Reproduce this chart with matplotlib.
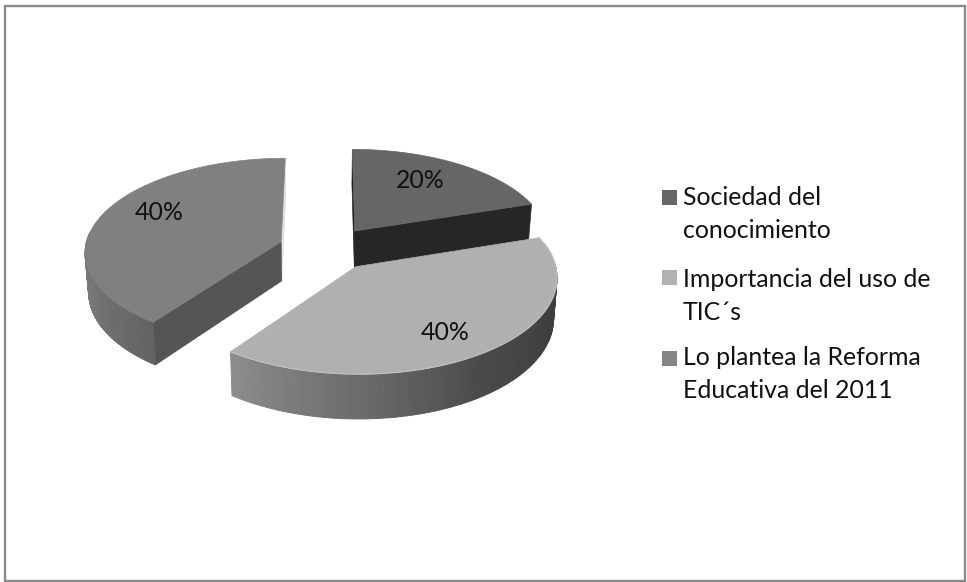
import numpy as np
import matplotlib
matplotlib.use("Agg")
import matplotlib.pyplot as plt
from matplotlib.patches import Polygon, Rectangle
from matplotlib.colors import LinearSegmentedColormap

# Data
categories = ["Sociedad del\nconocimiento", "Importancia del uso de\nTIC´s",
              "Lo plantea la Reforma\nEducativa del 2011"]
values = [20, 40, 40]
labels = ["20%", "40%", "40%"]

# Style
face_colors = ["#666666", "#b0b0b0", "#808080"]
legend_colors = ["#666666", "#b2b2b2", "#858585"]
radial_colors = ["#262626", "#3a3a3a", "#555555"]
TXT = "#111111"
FONT = "Lato"
FS = 17.9

# 3D pie geometry (pixels)
X0, Y0, W, H, K, EXPL_X, EXPL_Y, DEPTH, TAPER = 326.85, 248.5, 196.0, 93.0, 0.099, 0.247, 0.237, 39.5, 0.015


def project(theta, r, mid, z=0.0):
    """theta/mid in radians clockwise from 12 o'clock, r radial unit, z 0 top..1 bottom."""
    X = r * np.sin(theta) + EXPL_X * np.sin(mid)
    Y = r * np.cos(theta) + EXPL_Y * np.cos(mid)
    w = 1 + K * Y
    x = W * X / w * (1 - TAPER * z)
    y = -H * Y / w + DEPTH * z / w
    return X0 + x, Y0 + y


fig = plt.figure(figsize=(9.67, 5.82), dpi=100)
ax = fig.add_axes([0, 0, 1, 1])
ax.set_xlim(0, 967)
ax.set_ylim(582, 0)
ax.axis("off")

ax.add_patch(Rectangle((5, 6), 960, 574.5, fc="white", ec="#8a8a8a", lw=1.7, zorder=0))

fr = np.array(values) / sum(values) * 2 * np.pi
ends = np.cumsum(fr)
starts = ends - fr
mids = (starts + ends) / 2


def wall_strip(a, b, mid, cmap, ca, cb, zorder):
    ts = np.linspace(a, b, 90)
    for i in range(len(ts) - 1):
        t = np.array([ts[i], ts[i + 1]])
        xt, yt = project(t, 1, mid, 0)
        xb, yb = project(t, 1, mid, 1)
        c = cmap(ca + (cb - ca) * i / (len(ts) - 2))
        ax.add_patch(Polygon(np.c_[np.r_[xt, xb[::-1]], np.r_[yt, yb[::-1]]],
                             fc=c, ec=c, lw=0.7, zorder=zorder))


def radial_wall(theta, mid, color, zorder):
    rr = np.array([0, 1])
    xt, yt = project(theta, rr, mid, 0)
    xb, yb = project(theta, rr, mid, 1)
    ax.add_patch(Polygon(np.c_[np.r_[xt, xb[::-1]], np.r_[yt, yb[::-1]]],
                         fc=color, ec=color, lw=0.4, zorder=zorder))


def top_face(i, zorder):
    ts = np.linspace(starts[i], ends[i], 120)
    xa, ya = project(ts, 1, mids[i], 0)
    xc, yc = project(0.0, 0.0, mids[i], 0)
    ax.add_patch(Polygon(np.c_[np.r_[xc, xa], np.r_[yc, ya]],
                         fc=face_colors[i], ec=face_colors[i], lw=0.5, zorder=zorder))
    return xa, ya


cm2 = LinearSegmentedColormap.from_list("w2", ["#4c4c4c", "#3e3e3e", "#4a4a4a", "#6c6c6c", "#8c8c8c"])
cm3 = LinearSegmentedColormap.from_list("w3", ["#626262", "#6e6e6e", "#7a7a7a", "#747474"])

# Slice 3 (back left)
radial_wall(ends[2] % (2 * np.pi), mids[2], "#e0e0e0", 1)
radial_wall(starts[2], mids[2], radial_colors[2], 2)
wall_strip(starts[2], starts[2] + np.radians(60), mids[2], cm3, 0, 1, 2)
top_face(2, 3)

# Slice 1 (back right)
radial_wall(starts[0], mids[0], "#1a1a1a", 1)
radial_wall(ends[0], mids[0], radial_colors[0], 2)
top_face(0, 3)

# Slice 2 (front)
wall_strip(starts[1] + np.radians(4), ends[1], mids[1], cm2, 0, 1, 4)
xa, ya = top_face(1, 5)
ax.plot(xa, ya, color="#c4c4c4", lw=0.7, zorder=6)

# Percent labels
label_pos = [(420, 180.5), (445, 332.5), (159, 212.5)]
for (lx, ly), s in zip(label_pos, labels):
    ax.text(lx, ly, s, ha="center", va="center", fontsize=FS, family=FONT, color=TXT, zorder=8)

# Legend
box_y = [190, 270, 351]
base_y = [205, 287, 365]
LINE = 33
for c, name, by, ty in zip(legend_colors, categories, box_y, base_y):
    ax.add_patch(Rectangle((662, by), 15, 15, fc=c, ec="none", zorder=3))
    for j, line in enumerate(name.split("\n")):
        ax.text(683, ty + j * LINE, line, ha="left", va="baseline", fontsize=FS,
                family=FONT, color=TXT, zorder=8)

fig.savefig("out.png", dpi=100, facecolor="white")
